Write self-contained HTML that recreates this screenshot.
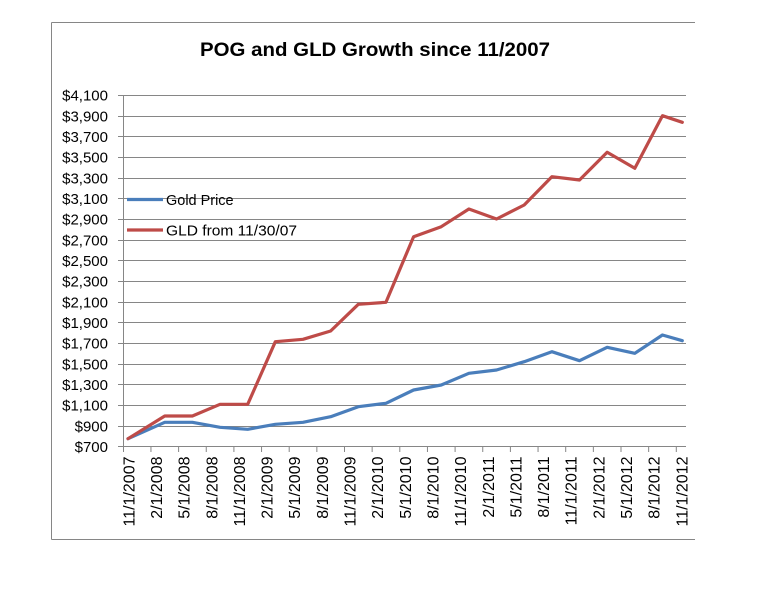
<!DOCTYPE html>
<html>
<head>
<meta charset="utf-8">
<style>
  html, body { margin: 0; padding: 0; background: #ffffff; }
  svg { display: block; }
  text { font-family: "Liberation Sans", "DejaVu Sans", sans-serif; fill: #000; }
</style>
</head>
<body>
<svg width="770" height="608" viewBox="0 0 770 608" xmlns="http://www.w3.org/2000/svg">
  <rect x="0" y="0" width="770" height="608" fill="#ffffff"/>

  <!-- chart frame (top, left, bottom) -->
  <g stroke="#868686" stroke-width="1" fill="none">
    <line x1="51.5" y1="22.5" x2="695" y2="22.5"/>
    <line x1="51.5" y1="22.5" x2="51.5" y2="539.5"/>
    <line x1="51.5" y1="539.5" x2="695" y2="539.5"/>
  </g>

  <!-- title -->
  <text x="200" y="56" font-size="19" font-weight="bold" textLength="350" lengthAdjust="spacingAndGlyphs">POG and GLD Growth since 11/2007</text>

  <!-- gridlines -->
  <g stroke="#868686" stroke-width="1">
    <line x1="118" y1="446.5" x2="686" y2="446.5"/>
    <line x1="118" y1="426.5" x2="686" y2="426.5"/>
    <line x1="118" y1="405.5" x2="686" y2="405.5"/>
    <line x1="118" y1="384.5" x2="686" y2="384.5"/>
    <line x1="118" y1="364.5" x2="686" y2="364.5"/>
    <line x1="118" y1="343.5" x2="686" y2="343.5"/>
    <line x1="118" y1="322.5" x2="686" y2="322.5"/>
    <line x1="118" y1="302.5" x2="686" y2="302.5"/>
    <line x1="118" y1="281.5" x2="686" y2="281.5"/>
    <line x1="118" y1="260.5" x2="686" y2="260.5"/>
    <line x1="118" y1="240.5" x2="686" y2="240.5"/>
    <line x1="118" y1="219.5" x2="686" y2="219.5"/>
    <line x1="118" y1="198.5" x2="686" y2="198.5"/>
    <line x1="118" y1="178.5" x2="686" y2="178.5"/>
    <line x1="118" y1="157.5" x2="686" y2="157.5"/>
    <line x1="118" y1="136.5" x2="686" y2="136.5"/>
    <line x1="118" y1="116.5" x2="686" y2="116.5"/>
    <line x1="118" y1="95.5" x2="686" y2="95.5"/>
    <!-- y axis -->
    <line x1="123.5" y1="95.5" x2="123.5" y2="452"/>
  </g>

  <!-- x ticks -->
  <g stroke="#868686" stroke-width="1">
    <line x1="150.95" y1="446.5" x2="150.95" y2="452"/>
    <line x1="178.6" y1="446.5" x2="178.6" y2="452"/>
    <line x1="206.25" y1="446.5" x2="206.25" y2="452"/>
    <line x1="233.9" y1="446.5" x2="233.9" y2="452"/>
    <line x1="261.55" y1="446.5" x2="261.55" y2="452"/>
    <line x1="289.2" y1="446.5" x2="289.2" y2="452"/>
    <line x1="316.85" y1="446.5" x2="316.85" y2="452"/>
    <line x1="344.5" y1="446.5" x2="344.5" y2="452"/>
    <line x1="372.15" y1="446.5" x2="372.15" y2="452"/>
    <line x1="399.8" y1="446.5" x2="399.8" y2="452"/>
    <line x1="427.45" y1="446.5" x2="427.45" y2="452"/>
    <line x1="455.1" y1="446.5" x2="455.1" y2="452"/>
    <line x1="482.75" y1="446.5" x2="482.75" y2="452"/>
    <line x1="510.4" y1="446.5" x2="510.4" y2="452"/>
    <line x1="538.05" y1="446.5" x2="538.05" y2="452"/>
    <line x1="565.7" y1="446.5" x2="565.7" y2="452"/>
    <line x1="593.35" y1="446.5" x2="593.35" y2="452"/>
    <line x1="621" y1="446.5" x2="621" y2="452"/>
    <line x1="648.65" y1="446.5" x2="648.65" y2="452"/>
    <line x1="676.3" y1="446.5" x2="676.3" y2="452"/>
  </g>

  <!-- y labels -->
  <g font-size="15" text-anchor="end">
    <text x="108" y="452">$700</text>
    <text x="108" y="431.5">$900</text>
    <text x="108" y="410.5">$1,100</text>
    <text x="108" y="390">$1,300</text>
    <text x="108" y="369.5">$1,500</text>
    <text x="108" y="348.5">$1,700</text>
    <text x="108" y="328">$1,900</text>
    <text x="108" y="307.5">$2,100</text>
    <text x="108" y="286.5">$2,300</text>
    <text x="108" y="266">$2,500</text>
    <text x="108" y="245.5">$2,700</text>
    <text x="108" y="224.5">$2,900</text>
    <text x="108" y="204">$3,100</text>
    <text x="108" y="183.5">$3,300</text>
    <text x="108" y="162.5">$3,500</text>
    <text x="108" y="142">$3,700</text>
    <text x="108" y="121.5">$3,900</text>
    <text x="108" y="100.5">$4,100</text>
  </g>

  <!-- x labels -->
  <g font-size="16" text-anchor="end">
    <text transform="translate(134.3,456.5) rotate(-90)">11/1/2007</text>
    <text transform="translate(161.95,456.5) rotate(-90)">2/1/2008</text>
    <text transform="translate(189.6,456.5) rotate(-90)">5/1/2008</text>
    <text transform="translate(217.25,456.5) rotate(-90)">8/1/2008</text>
    <text transform="translate(244.9,456.5) rotate(-90)">11/1/2008</text>
    <text transform="translate(272.55,456.5) rotate(-90)">2/1/2009</text>
    <text transform="translate(300.2,456.5) rotate(-90)">5/1/2009</text>
    <text transform="translate(327.85,456.5) rotate(-90)">8/1/2009</text>
    <text transform="translate(355.5,456.5) rotate(-90)">11/1/2009</text>
    <text transform="translate(383.15,456.5) rotate(-90)">2/1/2010</text>
    <text transform="translate(410.8,456.5) rotate(-90)">5/1/2010</text>
    <text transform="translate(438.45,456.5) rotate(-90)">8/1/2010</text>
    <text transform="translate(466.1,456.5) rotate(-90)">11/1/2010</text>
    <text transform="translate(493.75,456.5) rotate(-90)">2/1/2011</text>
    <text transform="translate(521.4,456.5) rotate(-90)">5/1/2011</text>
    <text transform="translate(549.05,456.5) rotate(-90)">8/1/2011</text>
    <text transform="translate(576.7,456.5) rotate(-90)">11/1/2011</text>
    <text transform="translate(604.35,456.5) rotate(-90)">2/1/2012</text>
    <text transform="translate(632,456.5) rotate(-90)">5/1/2012</text>
    <text transform="translate(659.65,456.5) rotate(-90)">8/1/2012</text>
    <text transform="translate(687.3,456.5) rotate(-90)">11/1/2012</text>
  </g>

  <!-- series -->
  <polyline fill="none" stroke="#4A7EBB" stroke-width="3.2" stroke-linejoin="round" stroke-linecap="round"
    points="128,438.7 164.75,422.3 192.4,422.3 220.05,427.3 247.7,429.3 275.35,424.3 303,422.3 330.65,416.7 358.3,406.7 385.95,403.3 413.6,390 441.25,385 468.9,373.3 496.55,370 524.2,361.7 551.85,351.7 579.5,360.7 607.15,347.3 634.8,353.3 662.45,335 682.3,340.7"/>
  <polyline fill="none" stroke="#BE4B48" stroke-width="3.2" stroke-linejoin="round" stroke-linecap="round"
    points="128,438.7 164.75,416 192.4,416 220.05,404.3 247.7,404.3 275.35,341.7 303,339.3 330.65,331 358.3,304.3 385.95,302.3 413.6,236.7 441.25,226.7 468.9,209 496.55,219 524.2,205 551.85,176.7 579.5,180 607.15,152.3 634.8,168.3 662.45,115.7 682.3,122.3"/>

  <!-- legend -->
  <line x1="127" y1="199.5" x2="163" y2="199.5" stroke="#4A7EBB" stroke-width="3.2"/>
  <text x="166" y="205" font-size="15" textLength="67.6" lengthAdjust="spacingAndGlyphs">Gold Price</text>
  <line x1="127" y1="230" x2="163" y2="230" stroke="#BE4B48" stroke-width="3.2"/>
  <text x="166" y="235.5" font-size="15" textLength="131" lengthAdjust="spacingAndGlyphs">GLD from 11/30/07</text>
</svg>
</body>
</html>
